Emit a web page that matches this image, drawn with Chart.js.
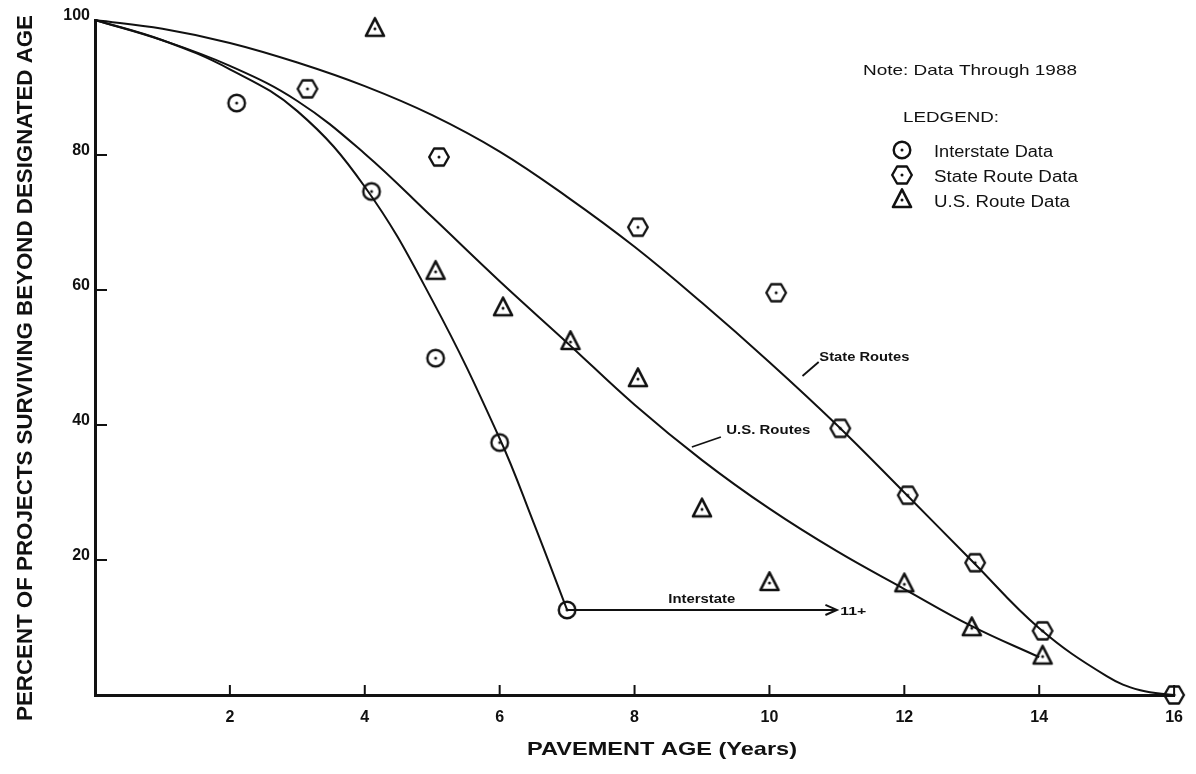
<!DOCTYPE html>
<html><head><meta charset="utf-8">
<script src="https://cdn.jsdelivr.net/npm/chart.js@4/dist/chart.umd.min.js"></script>
<style>html,body{margin:0;padding:0;background:#fff;}canvas{display:block;}</style>
</head><body>
<canvas id="c" width="1196" height="774"></canvas>
<script>
// ---- data ----
const xTickValues = [2, 4, 6, 8, 10, 12, 14, 16];
const yTickValues = [20, 40, 60, 80, 100];

const interstateX = [2.1, 4.1, 5.05, 6.0, 7.0];
const interstateY = [87.7, 74.6, 49.9, 37.4, 12.6];
const stateX = [3.15, 5.1, 8.05, 10.1, 11.05, 12.05, 13.05, 14.05, 16.0];
const stateY = [89.8, 79.7, 69.3, 59.6, 39.5, 29.6, 19.6, 9.5, 0];
const usX = [4.15, 5.05, 6.05, 7.05, 8.05, 9.0, 10.0, 12.0, 13.0, 14.05];
const usY = [98.7, 62.7, 57.3, 52.3, 46.8, 27.5, 16.6, 16.4, 9.9, 5.7];

const stateCurveX = [0, 1, 2, 3, 4, 5, 6, 7, 8, 9, 10, 11, 12, 13, 14, 15, 15.5, 16];
const stateCurveY = [100, 98.7, 96.6, 93.7, 90.2, 85.9, 80.5, 73.8, 66.4, 58.1, 49.3, 40.0, 30.0, 19.9, 9.9, 2.8, 0.7, 0];
const usCurveX = [0, 1, 2, 3, 4, 5, 6, 7, 8, 9, 10, 11, 12, 13, 14];
const usCurveY = [100, 97.0, 93.2, 88.0, 80.2, 70.8, 61.3, 52.2, 43.0, 34.8, 27.6, 21.3, 15.7, 10.2, 5.6];
const interstateCurveX = [0, 1, 2, 3, 4, 5, 6, 6.5, 7];
const interstateCurveY = [100, 97.0, 92.7, 86.5, 75.3, 58.5, 38.0, 25.6, 12.6];
const arrowX = [7, 11];
const arrowY = [12.6, 12.6];
const arrowHeadX = [10.83, 11, 10.83];
const arrowHeadY = [13.35, 12.6, 11.85];

const pts = (xs, ys) => xs.map((x, i) => ({x: x, y: ys[i]}));
const INK = '#111';

function makeMarker(kind) {
  const s = 30, c = document.createElement('canvas');
  c.width = s; c.height = s;
  const g = c.getContext('2d');
  const m = s / 2;
  g.strokeStyle = INK; g.fillStyle = INK; g.lineWidth = 2.4;
  g.beginPath();
  if (kind === 'circle') {
    g.arc(m, m, 8.3, 0, Math.PI * 2);
  } else if (kind === 'hex') {
    for (let i = 0; i < 6; i++) {
      const a = i * Math.PI / 3;
      const px = m + 9.8 * Math.cos(a), py = m + 9.8 * Math.sin(a);
      if (i) g.lineTo(px, py); else g.moveTo(px, py);
    }
    g.closePath();
  } else {
    g.lineWidth = 2.7;
    g.moveTo(m, m - 10.5); g.lineTo(m + 9, m + 7); g.lineTo(m - 9, m + 7); g.closePath();
  }
  g.lineJoin = 'round';
  g.stroke();
  g.beginPath(); g.arc(m, m, 1.5, 0, Math.PI * 2); g.fill();
  return c;
}
const mCircle = makeMarker('circle');
const mHex = makeMarker('hex');
const mTri = makeMarker('tri');

function fitText(ctx, text, x, y, w, font) {
  ctx.save();
  ctx.font = font;
  const mw = ctx.measureText(text).width;
  ctx.translate(x, y);
  ctx.scale(w / mw, 1);
  ctx.textAlign = 'left';
  ctx.textBaseline = 'alphabetic';
  ctx.fillText(text, 0, 0);
  ctx.restore();
}

const decor = {
  id: 'decor',
  afterDraw(chart) {
    const ctx = chart.ctx;
    const xs = chart.scales.x, ys = chart.scales.y;
    const area = chart.chartArea;
    const px = v => xs.getPixelForValue(v), py = v => ys.getPixelForValue(v);
    ctx.save();
    ctx.strokeStyle = INK; ctx.fillStyle = INK;
    // inward tick marks
    ctx.lineWidth = 2;
    xTickValues.forEach(v => {
      ctx.beginPath(); ctx.moveTo(px(v), area.bottom); ctx.lineTo(px(v), area.bottom - 10); ctx.stroke();
    });
    yTickValues.filter(v => v < 100).forEach(v => {
      ctx.beginPath(); ctx.moveTo(area.left, py(v)); ctx.lineTo(area.left + 12, py(v)); ctx.stroke();
    });
    // axis titles
    ctx.save();
    ctx.font = 'bold 22px "Liberation Sans", Arial, sans-serif';
    const yt = 'PERCENT OF PROJECTS SURVIVING BEYOND DESIGNATED AGE';
    const ytw = ctx.measureText(yt).width;
    ctx.translate(32, 368);
    ctx.rotate(-Math.PI / 2);
    ctx.scale(706 / ytw, 1);
    ctx.textAlign = 'center'; ctx.textBaseline = 'alphabetic';
    ctx.fillText(yt, 0, 0);
    ctx.restore();
    fitText(ctx, 'PAVEMENT AGE (Years)', 527, 755, 270, 'bold 19px "Liberation Sans", Arial, sans-serif');
    // curve annotations
    ctx.lineWidth = 1.8;
    ctx.beginPath(); ctx.moveTo(px(10.49), py(47.26)); ctx.lineTo(px(10.73), py(49.33)); ctx.stroke();
    fitText(ctx, 'State Routes', px(10.74), py(49.48), 90, 'bold 13px "Liberation Sans", Arial, sans-serif');
    ctx.beginPath(); ctx.moveTo(px(8.85), py(36.74)); ctx.lineTo(px(9.28), py(38.22)); ctx.stroke();
    fitText(ctx, 'U.S. Routes', px(9.36), py(38.67), 84, 'bold 13px "Liberation Sans", Arial, sans-serif');
    fitText(ctx, 'Interstate', px(8.5), py(13.63), 67, 'bold 13px "Liberation Sans", Arial, sans-serif');
    fitText(ctx, '11+', px(11.05), py(11.85), 26, 'bold 10px "Liberation Sans", Arial, sans-serif');
    // note + legend
    fitText(ctx, 'Note: Data Through 1988', 863, 75, 214, '15px "Liberation Sans", Arial, sans-serif');
    fitText(ctx, 'LEDGEND:', 903, 122, 96, '15px "Liberation Sans", Arial, sans-serif');
    const items = [[mCircle, 'Interstate Data', 150, 156.7, 119], [mHex, 'State Route Data', 175, 181.7, 144], [mTri, 'U.S. Route Data', 200, 206.7, 136]];
    items.forEach(([img, t, cy, by, w]) => {
      ctx.drawImage(img, 902 - img.width / 2, cy - img.height / 2);
      fitText(ctx, t, 934, by, w, '16px "Liberation Sans", Arial, sans-serif');
    });
    ctx.restore();
  }
};

const lineDs = (label, data, tension) => ({
  label, data, showLine: true, borderColor: INK, borderWidth: 2, pointRadius: 0,
  cubicInterpolationMode: 'default', tension: tension, fill: false, order: 2, clip: false
});
const markDs = (label, data, img) => ({
  label, data, showLine: false, pointStyle: img, pointRadius: 10, order: 0, clip: false
});

new Chart(document.getElementById('c').getContext('2d'), {
  type: 'scatter',
  data: {
    datasets: [
      lineDs('State Routes', pts(stateCurveX, stateCurveY), 0.4),
      lineDs('U.S. Routes', pts(usCurveX, usCurveY), 0.4),
      lineDs('Interstate', pts(interstateCurveX, interstateCurveY), 0.4),
      lineDs('Interstate 11+', pts(arrowX, arrowY), 0),
      lineDs('Arrow head', pts(arrowHeadX, arrowHeadY), 0),
      markDs('Interstate Data', pts(interstateX, interstateY), mCircle),
      markDs('State Route Data', pts(stateX, stateY), mHex),
      markDs('U.S. Route Data', pts(usX, usY), mTri)
    ]
  },
  options: {
    responsive: false, animation: false, devicePixelRatio: 1,
    layout: {padding: {top: 20, right: 15, left: 0, bottom: 0}},
    plugins: {legend: {display: false}, tooltip: {enabled: false}},
    scales: {
      x: {
        type: 'linear', min: 0, max: 16,
        afterFit: s => { s.height = 79; },
        afterBuildTicks: s => { s.ticks = xTickValues.map(v => ({value: v})); },
        grid: {display: false, drawTicks: false},
        border: {display: true, width: 3, color: INK},
        ticks: {padding: 13, color: INK, autoSkip: false, maxRotation: 0,
          font: {family: '"Liberation Sans", Arial, sans-serif', size: 16, weight: 'bold'}}
      },
      y: {
        type: 'linear', min: 0, max: 100,
        afterFit: s => { s.width = 95; },
        afterBuildTicks: s => { s.ticks = yTickValues.map(v => ({value: v})); },
        grid: {display: false, drawTicks: false},
        border: {display: true, width: 3, color: INK},
        ticks: {padding: 5, labelOffset: -4, color: INK,
          font: {family: '"Liberation Sans", Arial, sans-serif', size: 16, weight: 'bold'}}
      }
    }
  },
  plugins: [decor]
});
</script>
</body></html>
